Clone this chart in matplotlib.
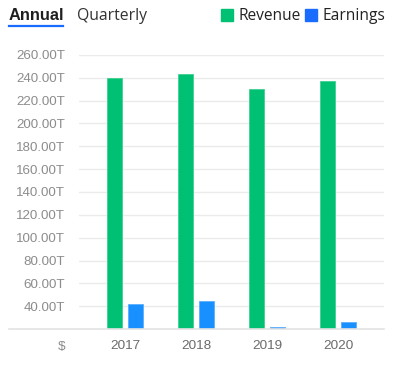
import matplotlib.pyplot as plt
import numpy as np

# Data (trillions)
years = ['2017', '2018', '2019', '2020']
revenue = [239.58, 243.77, 230.40, 236.81]
earnings = [42.19, 44.34, 21.74, 26.41]
yticks = [40, 60, 80, 100, 120, 140, 160, 180, 200, 220, 240, 260]

green = '#00C073'
blue = '#1890FF'
legend_blue = '#1A6CFF'

fig = plt.figure(figsize=(4.01, 3.69), dpi=100)
W, H = 401, 369
ax = fig.add_axes([79 / W, 40 / H, 305 / W, 274 / H])

x = np.arange(len(years))
w = 0.21
off = 0.146
ax.bar(x - off, [v - 20 for v in revenue], w, bottom=20, color=green,
       edgecolor='#3fd08f', linewidth=0.6, zorder=3)
ax.bar(x + off, [v - 20 for v in earnings], w, bottom=20, color=blue,
       edgecolor='#5aaeff', linewidth=0.6, zorder=3)

ax.set_xlim(-0.65, 3.645)
ax.set_ylim(20, 260)
ax.set_yticks(yticks)
ax.set_yticklabels([f'{t:.2f}T' for t in yticks])
ax.set_xticks(x)
ax.set_xticklabels(years)
for s in ax.spines.values():
    s.set_visible(False)
ax.tick_params(length=0)
ax.tick_params(axis='y', pad=10, labelsize=9.6, labelcolor='#8c8c8c')
ax.tick_params(axis='x', pad=8, labelsize=9.7, labelcolor='#6b6b6b')
for lab in ax.get_yticklabels() + ax.get_xticklabels():
    lab.set_family('Liberation Sans')
ax.grid(axis='y', color='#ebebeb', linewidth=1, zorder=0)
ax.set_axisbelow(True)
# baseline extends to the left edge
ax.axhline(20, xmin=(9 - 79) / 305, xmax=1, color='#e3e3e3', linewidth=1.2,
           clip_on=False, zorder=4)

fig.text(62 / W, 1 - 347 / H, '$', ha='center', va='center', fontsize=9.7,
         color='#8c8c8c', family='Liberation Sans')

# header tabs
fig.text(9 / W, 1 - 15.5 / H, 'Annual', ha='left', va='center', fontsize=11.8,
         fontweight='bold', color='#1f1f1f', family='Liberation Sans')
fig.add_artist(plt.Line2D([9 / W, 63 / W], [1 - 25.5 / H] * 2, color='#1A6CFF',
                          linewidth=1.6))
fig.text(77 / W, 1 - 15.5 / H, 'Quarterly', ha='left', va='center', fontsize=11.3,
         color='#333333', family='Open Sans')

# legend
for sx, c, label in [(221, green, 'Revenue'), (305, legend_blue, 'Earnings')]:
    fig.add_artist(plt.Rectangle((sx / W, 1 - 20.7 / H), 11.7 / W, 12 / H,
                                 color=c, transform=fig.transFigure))
    fig.text((sx + 17) / W, 1 - 15.5 / H, label, ha='left', va='center',
             fontsize=11.2, color='#222222', family='Open Sans')

fig.savefig('out.png', dpi=100)
